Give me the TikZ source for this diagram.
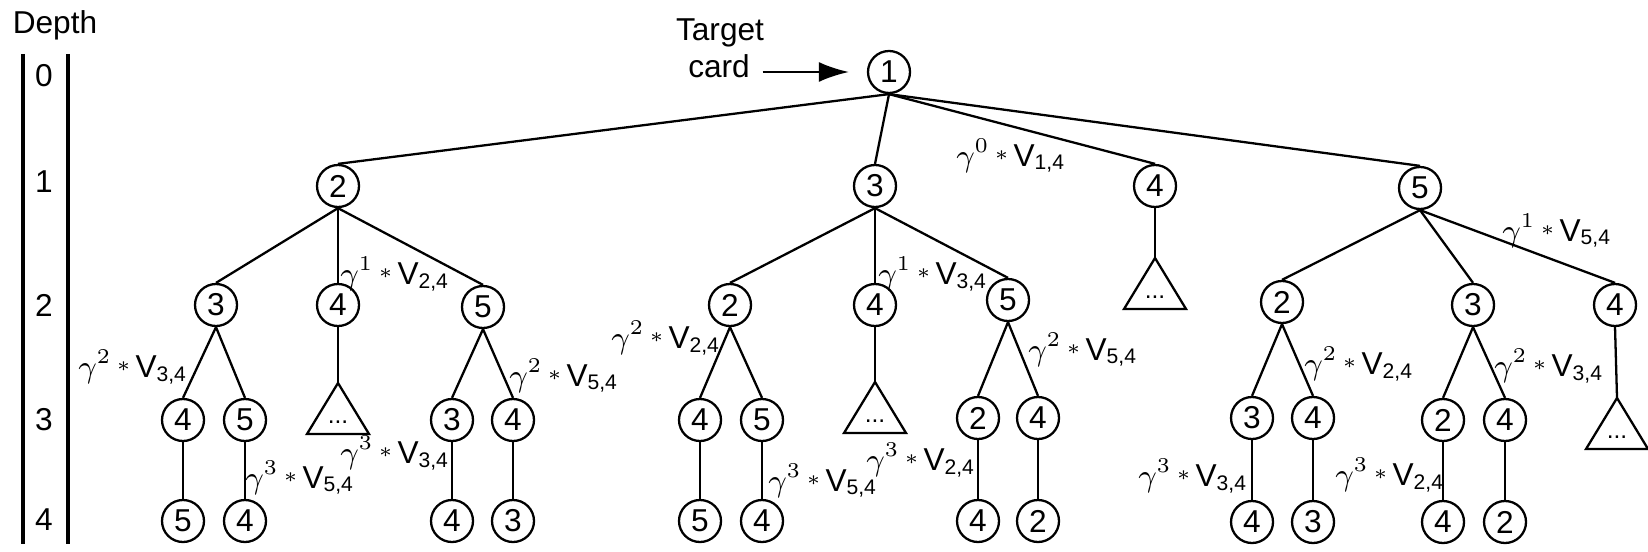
\documentclass[tikz,border=0pt]{standalone}
\usepackage{fontspec}
\setmainfont{Liberation Sans}
\usetikzlibrary{arrows.meta}

% discounted value label
\newcommand{\gval}[2]{$\gamma^{#1}$\,\raisebox{1.6pt}{$\scriptstyle\ast$}\,V\textsubscript{#2}}
% subtree left open: name, apex x, apex y
\newcommand{\subtree}[3]{%
  \coordinate (#1) at (#2,#3);
  \draw (#1) -- ++(-31,51) -- ++(62,0) -- cycle;
  \node[dots] (#1-dots) at (#2,#3+39) {...};}

\begin{document}
\begin{tikzpicture}[x=0.1mm,y=-0.1mm,line width=0.65pt,
  font=\fontsize{9}{10}\selectfont,
  cardnode/.style={circle,draw,minimum size=4.2mm,inner sep=0pt},
  val/.style={inner sep=0pt},
  dots/.style={inner sep=0pt,font=\fontsize{7}{8}\selectfont},
  depthbar/.style={line width=0.9pt}]
  \useasboundingbox (0,0) rectangle (1648,551);

  % depth scale
  \node (depth) at (55,25) {Depth};
  \draw[depthbar] (23,54) -- (23,544);
  \draw[depthbar] (68,54) -- (68,544);
  \foreach \d/\y in {0/76,1/182,2/305,3/420,4/520}
    \node (d\d) at (44,\y) {\d};

  % root
  \node[cardnode] (n1) at (889,72) {1};
  \node (target) at (720,33) {Target};
  \node (card) at (719,66) {card};
  \draw[-{Latex[length=3mm,width=2mm]},shorten >=1.8mm] (card.east |- n1) -- (n1);

  % depth 1
  \node[cardnode] (n2) at (338,186) {2};
  \node[cardnode] (n3) at (875,186) {3};
  \node[cardnode] (n4) at (1155,186) {4};
  \node[cardnode] (n5) at (1420,188) {5};

  % left: below 2
  \node[cardnode] (n23) at (216,305) {3};
  \node[cardnode] (n24) at (338,305) {4};
  \node[cardnode] (n25) at (483,307) {5};
  \node[cardnode] (n234) at (183,420) {4};
  \node[cardnode] (n235) at (245,420) {5};
  \node[cardnode] (n253) at (452,420) {3};
  \node[cardnode] (n254) at (513,420) {4};
  \node[cardnode] (n2345) at (183,521) {5};
  \node[cardnode] (n2354) at (245,521) {4};
  \node[cardnode] (n2534) at (452,521) {4};
  \node[cardnode] (n2543) at (513,521) {3};
  \subtree{t24}{338}{383}

  % middle: below 3
  \node[cardnode] (n32) at (730,305) {2};
  \node[cardnode] (n34) at (875,305) {4};
  \node[cardnode] (n35) at (1008,300) {5};
  \node[cardnode] (n324) at (700,420) {4};
  \node[cardnode] (n325) at (762,420) {5};
  \node[cardnode] (n352) at (978,418) {2};
  \node[cardnode] (n354) at (1038,418) {4};
  \node[cardnode] (n3245) at (700,521) {5};
  \node[cardnode] (n3254) at (762,521) {4};
  \node[cardnode] (n3524) at (978,521) {4};
  \node[cardnode] (n3542) at (1038,521) {2};
  \subtree{t34}{875}{382}

  % below 4
  \subtree{t4}{1155}{258}

  % right: below 5
  \node[cardnode] (n52) at (1282,302) {2};
  \node[cardnode] (n53) at (1473,305) {3};
  \node[cardnode] (n54) at (1615,305) {4};
  \node[cardnode] (n523) at (1252,418) {3};
  \node[cardnode] (n524) at (1313,418) {4};
  \node[cardnode] (n532) at (1443,420) {2};
  \node[cardnode] (n534) at (1505,420) {4};
  \node[cardnode] (n5234) at (1252,522) {4};
  \node[cardnode] (n5243) at (1313,522) {3};
  \node[cardnode] (n5324) at (1443,522) {4};
  \node[cardnode] (n5342) at (1505,522) {2};
  \subtree{t54}{1617}{398}

  % edges
  \foreach \p/\c in {n1/n2,n1/n3,n1/n4,n1/n5,
      n2/n23,n2/n24,n2/n25,n23/n234,n23/n235,n25/n253,n25/n254,
      n234/n2345,n235/n2354,n253/n2534,n254/n2543,
      n3/n32,n3/n34,n3/n35,n32/n324,n32/n325,n35/n352,n35/n354,
      n324/n3245,n325/n3254,n352/n3524,n354/n3542,
      n5/n52,n5/n53,n5/n54,n52/n523,n52/n524,n53/n532,n53/n534,
      n523/n5234,n524/n5243,n532/n5324,n534/n5342}
    \draw (\p.south) -- (\c.north);
  \foreach \p/\c in {n24/t24,n34/t34,n4/t4,n54/t54}
    \draw (\p.south) -- (\c);

  % values along the paths to 4
  \node[val] (v14) at (1011,156) {\gval{0}{1,4}};
  \node[val] (v24) at (395,274) {\gval{1}{2,4}};
  \node[val] (v34a) at (933,274) {\gval{1}{3,4}};
  \node[val] (v54a) at (1557,231) {\gval{1}{5,4}};
  \node[val] (v34b) at (133,367) {\gval{2}{3,4}};
  \node[val] (v54b) at (564,376) {\gval{2}{5,4}};
  \node[val] (v24b) at (666,338) {\gval{2}{2,4}};
  \node[val] (v54c) at (1083,350) {\gval{2}{5,4}};
  \node[val] (v24c) at (1359,364) {\gval{2}{2,4}};
  \node[val] (v34c) at (1549,366) {\gval{2}{3,4}};
  \node[val] (v54d) at (300,478) {\gval{3}{5,4}};
  \node[val] (v34d) at (395,453) {\gval{3}{3,4}};
  \node[val] (v54e) at (823,481) {\gval{3}{5,4}};
  \node[val] (v24d) at (921,460) {\gval{3}{2,4}};
  \node[val] (v34e) at (1193,476) {\gval{3}{3,4}};
  \node[val] (v24e) at (1390,475) {\gval{3}{2,4}};
\end{tikzpicture}
\end{document}
